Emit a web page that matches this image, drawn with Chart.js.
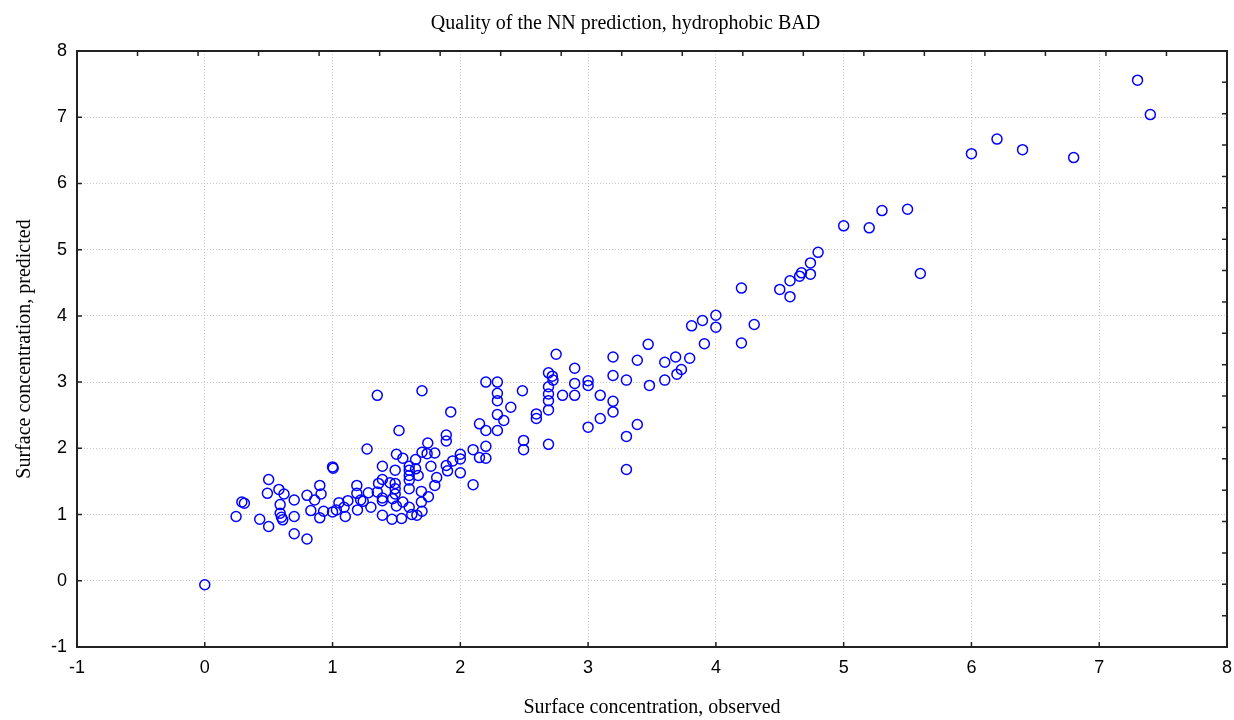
<!DOCTYPE html>
<html>
<head>
<meta charset="utf-8">
<script src="https://cdn.jsdelivr.net/npm/chart.js@4"></script>
<style>
body{margin:0;background:#fff}
</style>
</head>
<body>
<canvas id="nnChart" width="1234" height="720"></canvas>
<script>
// ----------------------------
// DATA
// ----------------------------

const obsX = [
0,1.35,1.27,1.0,1.005,0.5,0.49,0.29,0.31,0.245,0.43,0.5,0.58,0.62,0.59,0.59,0.6,0.61,0.7,0.7,
0.7,0.8,0.8,0.83,0.86,0.9,0.91,0.9,0.93,1.0,1.03,1.05,1.09,1.1,1.12,1.19,1.19,1.195,1.22,1.24,
1.28,1.3,1.35,1.36,1.39,1.39,1.39,1.39,
1.7,2.2,2.29,2.29,2.29,1.925,1.52,2.15,2.2,2.29,2.34,2.29,1.89,1.89,1.745,1.8,1.74,1.7,1.5,1.55,
1.65,1.49,1.6,1.6,1.65,1.67,1.6,1.77,1.89,1.94,2.0,2.0,1.9,2.0,2.1,2.2,2.15,2.2,2.1,1.815,
1.8,1.75,1.695,1.695,1.7,1.66,1.62,1.6,1.54,1.465,1.55,1.5,1.47,1.39,1.45,1.49,1.49,1.6,1.6,1.49,
2.75,3.195,3.385,2.895,2.69,2.72,2.725,2.486,2.69,2.69,2.69,2.69,2.8,2.895,2.895,3.0,3.0,3.095,3.195,3.3,
3.195,3.195,3.095,3.0,3.3,3.3,3.385,2.595,2.595,2.395,2.495,2.495,2.69,
4.2,4.0,4.0,3.895,3.81,4.3,4.2,3.91,3.47,3.6,3.685,3.795,3.695,3.73,3.6,3.48,
4.5,4.58,4.58,4.655,4.67,4.74,
7.4,6.0,6.2,6.4,6.8,5.0,5.2,5.3,5.5,5.6,4.8,4.74,7.3
]

const predY = [
-0.06,2.8,1.99,1.72,1.7,1.53,1.32,1.19,1.17,0.97,0.93,0.82,1.38,1.31,1.15,1.02,0.96,0.92,1.22,0.97,
0.71,0.63,1.29,1.06,1.22,1.44,1.31,0.95,1.05,1.04,1.07,1.18,1.11,0.97,1.21,1.44,1.32,1.07,1.22,1.2,
1.33,1.11,1.34,1.47,1.53,1.73,1.25,0.99,
2.87,3.0,3.0,2.83,2.72,2.55,2.27,2.37,2.27,2.51,2.42,2.27,2.2,2.11,2.08,1.93,1.92,1.94,1.91,1.85,
1.83,1.67,1.73,1.67,1.69,1.59,1.59,1.73,1.74,1.81,1.91,1.84,1.66,1.63,1.98,2.03,1.86,1.85,1.45,1.56,
1.44,1.27,1.35,1.19,1.05,0.99,1.0,1.11,0.94,0.93,1.19,1.13,1.24,1.21,1.48,1.47,1.39,1.39,1.52,1.31,
3.42,3.38,3.33,3.21,3.14,3.09,3.03,2.87,2.93,2.82,2.72,2.58,2.8,2.98,2.8,3.02,2.95,2.8,3.1,3.03,
2.71,2.55,2.45,2.32,2.18,1.68,2.36,2.52,2.45,2.62,2.12,1.98,2.06,
4.42,4.01,3.83,3.93,3.85,3.87,3.59,3.58,3.57,3.3,3.38,3.36,3.12,3.19,3.03,2.95,
4.4,4.53,4.29,4.6,4.65,4.63,
7.04,6.45,6.67,6.51,6.39,5.36,5.33,5.59,5.61,4.64,4.96,4.8,7.56
]

const xTicks = [-1,0,1,2,3,4,5,6,7,8]
const yTicks = [-1,0,1,2,3,4,5,6,7,8]
const frameDivisions = 19   // top / right axes carry their own 19 tick marks

const points = obsX.map((x,i)=>({x:x, y:predY[i]}))

// ------------------------------------
// INWARD TICK MARKS
// ------------------------------------

const innerTicks = {
    id:"innerTicks",
    afterDraw(chart){
        const ctx = chart.ctx
        const a = chart.chartArea
        const len = 5
        ctx.save()
        ctx.strokeStyle = "#222"
        ctx.lineWidth = 1.5
        ctx.beginPath()
        xTicks.forEach(v=>{
            const px = chart.scales.x.getPixelForValue(v)
            ctx.moveTo(px, a.bottom)
            ctx.lineTo(px, a.bottom - len)
        })
        yTicks.forEach(v=>{
            const py = chart.scales.y.getPixelForValue(v)
            ctx.moveTo(a.left, py)
            ctx.lineTo(a.left + len, py)
        })
        for(let i=0;i<=frameDivisions;i++){
            const px = chart.scales.x2.getPixelForValue(i)
            ctx.moveTo(px, a.top)
            ctx.lineTo(px, a.top + len)
            const py = chart.scales.y2.getPixelForValue(i)
            ctx.moveTo(a.right, py)
            ctx.lineTo(a.right - len, py)
        }
        ctx.stroke()
        ctx.restore()
    }
}

// ------------------------------------
// CHART
// ------------------------------------

const serif = "'Liberation Serif', 'Times New Roman', serif"
const sans = "'Liberation Sans', Arial, sans-serif"
const gridLook = {color:"#c8c8c8", lineWidth:1, drawTicks:false}
const borderLook = {display:true, color:"#222", width:2, dash:[1,2]}

new Chart(document.getElementById("nnChart"),{
    type:"scatter",
    data:{
        datasets:[{
            data:points,
            pointStyle:"circle",
            pointRadius:5,
            pointBorderWidth:1.5,
            borderColor:"#0000ff",
            backgroundColor:"rgba(0,0,0,0)"
        }]
    },
    options:{
        responsive:false,
        animation:false,
        layout:{padding:{left:24, right:7, top:0, bottom:0}},
        plugins:{
            legend:{display:false},
            tooltip:{enabled:false},
            title:{
                display:true,
                text:"Quality of the NN prediction, hydrophobic BAD",
                color:"#000",
                font:{family:serif, size:20, weight:"normal"},
                padding:{top:12, bottom:15}
            }
        },
        scales:{
            x:{
                type:"linear",
                position:"bottom",
                min:-1, max:8,
                afterBuildTicks(s){ s.ticks = xTicks.map(v=>({value:v})) },
                afterFit(s){ s.height = 73; s.paddingLeft = 0; s.paddingRight = 0 },
                ticks:{color:"#000", font:{family:sans, size:18}, padding:10},
                grid:gridLook,
                border:borderLook,
                title:{
                    display:true,
                    text:"Surface concentration, observed",
                    color:"#000",
                    font:{family:serif, size:20},
                    padding:{top:0, bottom:0}
                }
            },
            y:{
                type:"linear",
                position:"left",
                min:-1, max:8,
                afterBuildTicks(s){ s.ticks = yTicks.map(v=>({value:v})) },
                afterFit(s){ s.width = 53; s.paddingTop = 0; s.paddingBottom = 0 },
                ticks:{color:"#000", font:{family:sans, size:18}, padding:10},
                grid:gridLook,
                border:borderLook,
                title:{
                    display:true,
                    text:"Surface concentration, predicted",
                    color:"#000",
                    font:{family:serif, size:20},
                    padding:{top:-11, bottom:0}
                }
            },
            x2:{
                type:"linear",
                position:"top",
                min:0, max:frameDivisions,
                afterFit(s){ s.height = 0; s.paddingLeft = 0; s.paddingRight = 0 },
                ticks:{display:false},
                grid:{drawOnChartArea:false, drawTicks:false},
                border:{display:true, color:"#222", width:2}
            },
            y2:{
                type:"linear",
                position:"right",
                min:0, max:frameDivisions,
                afterFit(s){ s.width = 0 },
                ticks:{display:false},
                grid:{drawOnChartArea:false, drawTicks:false},
                border:{display:true, color:"#222", width:2}
            }
        }
    },
    plugins:[innerTicks]
})
</script>
</body>
</html>
